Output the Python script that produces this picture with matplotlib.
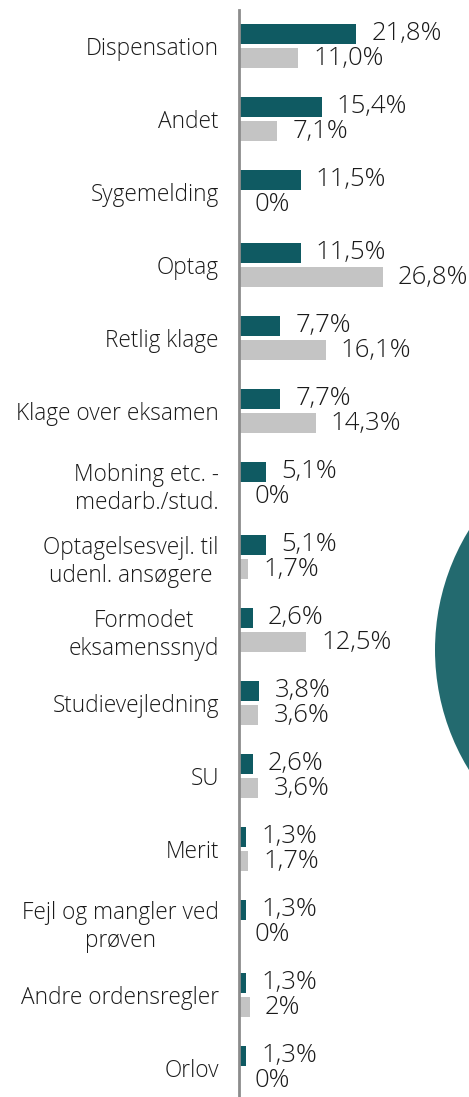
import matplotlib
matplotlib.use("Agg")
import matplotlib.pyplot as plt
from matplotlib.patches import Ellipse
import numpy as np

plt.rcParams['font.family'] = ['Open Sans', 'DejaVu Sans']

categories = ["Dispensation", "Andet", "Sygemelding", "Optag", "Retlig klage",
              "Klage over eksamen", "Mobning etc. -\nmedarb./stud.",
              "Optagelsesvejl. til\nudenl. ansøgere", "Formodet\neksamenssnyd",
              "Studievejledning", "SU", "Merit", "Fejl og mangler ved\nprøven",
              "Andre ordensregler", "Orlov"]
series_a = [21.8, 15.4, 11.5, 11.5, 7.7, 7.7, 5.1, 5.1, 2.6, 3.8, 2.6, 1.3, 1.3, 1.3, 1.3]
series_b = [11.0, 7.1, 0, 26.8, 16.1, 14.3, 0, 1.7, 12.5, 3.6, 3.6, 1.7, 0, 2, 0]
labels_a = ["21,8%", "15,4%", "11,5%", "11,5%", "7,7%", "7,7%", "5,1%", "5,1%",
            "2,6%", "3,8%", "2,6%", "1,3%", "1,3%", "1,3%", "1,3%"]
labels_b = ["11,0%", "7,1%", "0%", "26,8%", "16,1%", "14,3%", "0%", "1,7%",
            "12,5%", "3,6%", "3,6%", "1,7%", "0%", "2%", "0%"]

W, H = 469, 1097
fig = plt.figure(figsize=(W / 100, H / 100), dpi=100)

# decorative circle
circ = Ellipse((664 / W, 1 - 650 / H), 2 * 229 / W, 2 * 229 / H,
               transform=fig.transFigure, facecolor="#236a6f", edgecolor="none", zorder=0)
fig.patches.append(circ)

ax = fig.add_axes([239 / W, 0, (W - 239) / W, (H - 10) / H])
ax.set_facecolor("none")

y = np.arange(len(categories))
off = 0.165
h = 0.27
ax.barh(y - off, series_a, height=h, color="#0f5a62", zorder=2)
ax.barh(y + off, series_b, height=h, color="#c4c4c4", zorder=2)

px = 230 / 42.8  # pixels per unit
dx = 15.0 / px
for i in range(len(categories)):
    ax.text(series_a[i] + dx, y[i] - off, labels_a[i], va="center", ha="left",
            fontsize=18.5, fontweight="light", color="#1a1a1a")
    ax.text(series_b[i] + dx, y[i] + off, labels_b[i], va="center", ha="left",
            fontsize=18.5, fontweight="light", color="#1a1a1a")

ax.set_xlim(0, 42.8)
ax.set_ylim(14 + 29 / 73, -36 / 73)
ax.set_yticks(y)
ax.set_yticklabels(categories, fontsize=16.3, fontweight="light", color="#1a1a1a",
                   multialignment="center")
ax.tick_params(axis="y", length=0, pad=14.5)
ax.set_xticks([])
for s in ["top", "right", "bottom"]:
    ax.spines[s].set_visible(False)
ax.spines["left"].set_color("#8c8c8c")
ax.spines["left"].set_linewidth(2)

fig.savefig("out.png", dpi=100)
